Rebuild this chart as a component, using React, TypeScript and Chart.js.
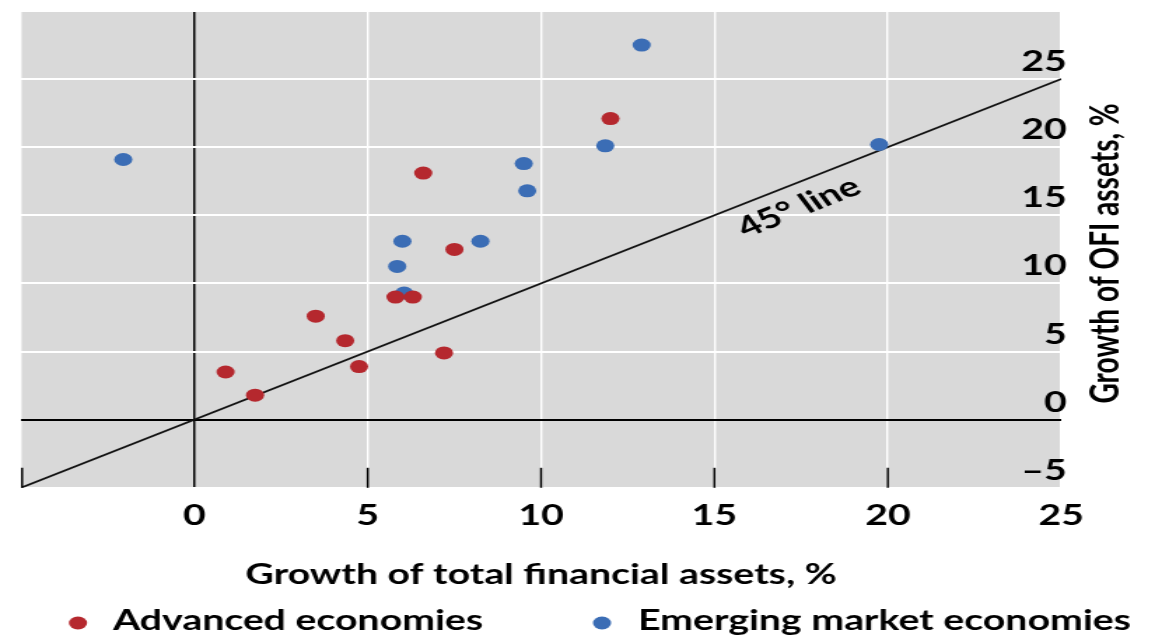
import React, { useEffect, useRef } from 'react';
import { Chart, registerables } from 'chart.js';

Chart.register(...registerables);

// ---- data ----
const advancedX = [12.0, 6.6, 7.5, 5.8, 6.3, 7.2, 3.5, 4.35, 4.75, 0.9, 1.75];
const advancedY = [22.1, 18.1, 12.5, 9.0, 9.0, 4.9, 7.6, 5.8, 3.9, 3.5, 1.8];
const emergingX = [-2.05, 12.9, 11.85, 9.5, 9.6, 6.0, 8.25, 5.85, 6.05, 19.75];
const emergingY = [19.1, 27.5, 20.1, 18.8, 16.8, 13.1, 13.1, 11.25, 9.3, 20.2];
const lineX = [-5, 25];
const lineY = [-5, 25];
const xTicks = [-5, 0, 5, 10, 15, 20, 25];
const xTickLabels = ['', '0', '5', '10', '15', '20', '25'];
const yTicks = [-5, 0, 5, 10, 15, 20, 25, 30];
const yTickLabels = ['–5', '0', '5', '10', '15', '20', '25', ''];
const seriesNames = ['Advanced economies', 'Emerging market economies'];
const seriesColors = ['#b5282e', '#3b6db5'];
const xTitle = 'Growth of total financial assets, %';
const yTitle = 'Growth of OFI assets, %';
const lineLabel = '45° line';

const S = 1.4;
const W = 832;
const H = 641;
const FONT_FAMILY = 'Lato';
const FONT_SIZE = 28;
const POINT_R = 6.5;

export default function App() {
  const ref = useRef<HTMLCanvasElement>(null);

  useEffect(() => {
    if (!ref.current) return;
    const font = { family: FONT_FAMILY, size: FONT_SIZE, weight: 'bold' as const };
    const cssFont = `bold ${FONT_SIZE}px ${FONT_FAMILY}`;

    const bgPlugin = {
      id: 'bg',
      beforeDraw(chart: any) {
        const { ctx, chartArea: a } = chart;
        ctx.save();
        ctx.fillStyle = '#d9d9d9';
        ctx.fillRect(a.left, a.top, a.right - a.left, a.bottom - a.top);
        ctx.restore();
      },
    };

    const decorPlugin = {
      id: 'decor',
      afterDatasetsDraw(chart: any) {
        const { ctx, chartArea: a, scales } = chart;
        const xs = scales.x;
        const ys = scales.y;
        ctx.save();
        // short tick marks inside the bottom of the plot
        ctx.strokeStyle = '#000';
        ctx.lineWidth = 1.5;
        xTicks.forEach((v) => {
          if (v === 0 || v === 25) return;
          const px = Math.max(xs.getPixelForValue(v), a.left + 0.75);
          ctx.beginPath();
          ctx.moveTo(px, a.bottom - 20);
          ctx.lineTo(px, a.bottom);
          ctx.stroke();
        });
        // 45° line label
        const x0 = xs.getPixelForValue(lineX[0]);
        const y0 = ys.getPixelForValue(lineY[0]);
        const x1 = xs.getPixelForValue(lineX[1]);
        const y1 = ys.getPixelForValue(lineY[1]);
        const ang = Math.atan2(y1 - y0, x1 - x0);
        const px = xs.getPixelForValue(17);
        const py = ys.getPixelForValue(17);
        ctx.translate(px, py);
        ctx.rotate(ang);
        ctx.fillStyle = '#000';
        ctx.font = cssFont;
        ctx.textAlign = 'center';
        ctx.textBaseline = 'middle';
        ctx.fillText(lineLabel, 0, 22);
        ctx.restore();
      },
      afterDraw(chart: any) {
        const { ctx, chartArea: a } = chart;
        ctx.save();
        // y title (reads bottom to top)
        ctx.fillStyle = '#000';
        ctx.font = cssFont;
        ctx.textAlign = 'center';
        ctx.textBaseline = 'middle';
        ctx.translate(790, (a.top + a.bottom) / 2 + 4);
        ctx.rotate(-Math.PI / 2);
        ctx.fillText(yTitle, 0, 0);
        ctx.restore();

        // legend
        ctx.save();
        ctx.font = cssFont;
        ctx.textAlign = 'left';
        ctx.textBaseline = 'middle';
        const legendY = 621;
        const dotX = [55.7, 430];
        const textX = [80.7, 455.7];
        seriesNames.forEach((name, i) => {
          ctx.fillStyle = seriesColors[i];
          ctx.beginPath();
          ctx.arc(dotX[i], 623, POINT_R, 0, Math.PI * 2);
          ctx.fill();
          ctx.fillStyle = '#000';
          ctx.fillText(name, textX[i], legendY);
        });
        ctx.restore();
      },
    };

    const toPts = (xs: number[], ys: number[]) => xs.map((x, i) => ({ x, y: ys[i] }));

    const chart = new Chart(ref.current, {
      type: 'scatter',
      data: {
        datasets: [
          {
            label: seriesNames[0],
            data: toPts(advancedX, advancedY),
            backgroundColor: seriesColors[0],
            borderWidth: 0,
            pointRadius: POINT_R,
            pointHoverRadius: POINT_R,
          },
          {
            label: seriesNames[1],
            data: toPts(emergingX, emergingY),
            backgroundColor: seriesColors[1],
            borderWidth: 0,
            pointRadius: POINT_R,
            pointHoverRadius: POINT_R,
          },
          {
            type: 'line',
            label: lineLabel,
            data: toPts(lineX, lineY),
            borderColor: '#111111',
            borderWidth: 1.7,
            pointRadius: 0,
            showLine: true,
            fill: false,
          } as any,
        ],
      },
      options: {
        animation: false,
        responsive: true,
        maintainAspectRatio: false,
        devicePixelRatio: 1,
        layout: { padding: { left: 15, right: 66, top: 11, bottom: 49 } },
        plugins: {
          legend: { display: false },
          tooltip: { enabled: false },
        },
        scales: {
          x: {
            type: 'linear',
            min: -5,
            max: 25,
            afterBuildTicks: (s: any) => {
              s.ticks = xTicks.map((v) => ({ value: v }));
            },
            ticks: {
              font,
              color: '#000',
              padding: 11,
              maxRotation: 0,
              autoSkip: false,
              callback: (v: any) => {
                const i = xTicks.indexOf(Number(v));
                return i >= 0 ? xTickLabels[i] : '';
              },
            },
            grid: {
              drawTicks: false,
              color: (c: any) => (c.tick && c.tick.value === 0 ? '#000' : '#ffffff'),
              lineWidth: (c: any) => (c.tick && c.tick.value === 0 ? 1.5 : 1.4),
            },
            border: { display: false },
            title: {
              display: true,
              text: xTitle,
              font,
              color: '#000',
              padding: { top: 15, bottom: 0 },
            },
          },
          y: {
            type: 'linear',
            position: 'right',
            min: -5,
            max: 30,
            afterBuildTicks: (s: any) => {
              s.ticks = yTicks.map((v) => ({ value: v }));
            },
            afterFit: (s: any) => {
              s.paddingTop = 0;
              s.paddingBottom = 0;
            },
            ticks: {
              mirror: true,
              padding: 4,
              labelOffset: -17,
              font,
              color: '#000',
              callback: (v: any) => {
                const i = yTicks.indexOf(Number(v));
                return i >= 0 ? yTickLabels[i] : '';
              },
            },
            grid: {
              drawTicks: false,
              color: (c: any) => (c.tick && c.tick.value === 0 ? '#000' : '#ffffff'),
              lineWidth: 2,
            },
            border: { display: false },
          },
        },
      },
      plugins: [bgPlugin, decorPlugin],
    });

    return () => chart.destroy();
  }, []);

  return (
    <div
      style={{
        position: 'absolute',
        left: 0,
        top: 0,
        width: W,
        height: H,
        transform: `scaleX(${S})`,
        transformOrigin: '0 0',
      }}
    >
      <canvas ref={ref} style={{ display: 'block' }} />
    </div>
  );
}
